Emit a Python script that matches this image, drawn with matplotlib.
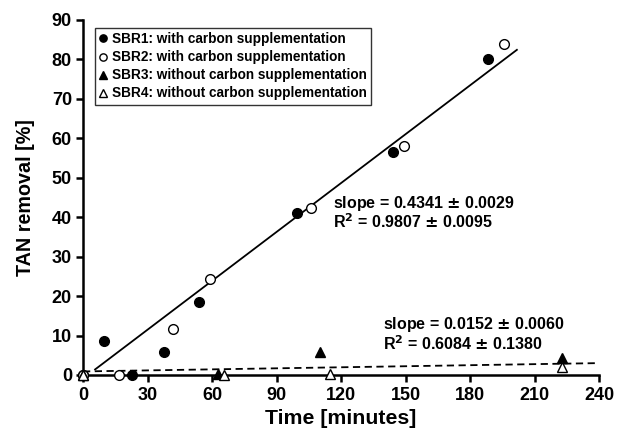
import matplotlib
matplotlib.use("Agg")
import matplotlib.pyplot as plt
import numpy as np

plt.rcParams['font.family'] = ['Liberation Sans', 'DejaVu Sans']
plt.rcParams['font.weight'] = 'bold'
plt.rcParams['mathtext.default'] = 'bf'

# Data (time in minutes, TAN removal in %)
sbr1_t = [0, 9.8, 22.9, 37.7, 54.0, 99.6, 144.3, 188.4]
sbr1_y = [0, 8.7, 0.0, 5.75, 18.6, 41.0, 56.6, 80.1]
sbr2_t = [0, 16.8, 41.8, 58.9, 106.2, 149.3, 195.6]
sbr2_y = [0, 0.0, 11.6, 24.3, 42.3, 58.1, 83.8]
sbr3_t = [0, 63.0, 110.4, 222.7]
sbr3_y = [0, 0.2, 5.75, 4.2]
sbr4_t = [0, 65.7, 115.0, 222.7]
sbr4_y = [0, 0.1, 0.3, 2.0]

labels = ["SBR1: with carbon supplementation",
          "SBR2: with carbon supplementation",
          "SBR3: without carbon supplementation",
          "SBR4: without carbon supplementation"]

# Drawn fit lines (as they appear on the chart)
fit_with_slope, fit_with_intercept = 0.413, -0.91
fit_with_range = [5.6, 201.8]
fit_without_slope, fit_without_intercept = 0.0088, 0.9
fit_without_range = [0, 239.3]

ann_with = ["slope = 0.4341 $\\pm$ 0.0029", "R$^{2}$ = 0.9807 $\\pm$ 0.0095"]
ann_without = ["slope = 0.0152 $\\pm$ 0.0060", "R$^{2}$ = 0.6084 $\\pm$ 0.1380"]

xticks = list(range(0, 241, 30))
yticks = list(range(0, 91, 10))

fig = plt.figure(figsize=(6.21, 4.29), dpi=100)
ax = fig.add_axes([0.1337, 0.1259, 0.8309, 0.8275])

xw = np.array(fit_with_range)
ax.plot(xw, fit_with_intercept + fit_with_slope * xw, color='black', lw=1.3)
xo = np.array(fit_without_range)
ax.plot(xo, fit_without_intercept + fit_without_slope * xo, color='black', lw=1.3,
        linestyle=(0, (4, 2.5)), clip_on=False)

ms = 7
h1, = ax.plot(sbr1_t, sbr1_y, 'o', color='black', ms=ms, clip_on=False, zorder=5)
h2, = ax.plot(sbr2_t, sbr2_y, 'o', mfc='white', mec='black', mew=1.0, ms=ms, clip_on=False, zorder=5)
h3, = ax.plot(sbr3_t, sbr3_y, '^', color='black', ms=ms, clip_on=False, zorder=5)
h4, = ax.plot(sbr4_t, sbr4_y, '^', mfc='white', mec='black', mew=1.0, ms=ms, clip_on=False, zorder=6)

ax.set_xlim(0, 240)
ax.set_ylim(0, 90)
ax.set_xticks(xticks)
ax.set_yticks(yticks)
for s in ['top', 'right']:
    ax.spines[s].set_visible(False)
for s in ['left', 'bottom']:
    ax.spines[s].set_linewidth(1.8)
ax.tick_params(axis='both', direction='out', length=5, width=1.8, labelsize=13)
ax.tick_params(axis='x', pad=4)
ax.tick_params(axis='y', pad=3)
for lab in ax.get_xticklabels() + ax.get_yticklabels():
    lab.set_fontweight('bold')

ax.set_xlabel("Time [minutes]", fontsize=15.3, fontweight='bold', labelpad=3)
ax.set_ylabel("TAN removal [%]", fontsize=14.2, fontweight='bold', labelpad=12)

leg = ax.legend([h1, h2, h3, h4], labels, loc='upper left', bbox_to_anchor=(0.023, 0.977),
                prop={'weight': 'bold', 'size': 9.8}, markerscale=0.75,
                handlelength=0.6, handletextpad=0.35, borderpad=0.3, labelspacing=0.3,
                frameon=True, fancybox=False, borderaxespad=0)
leg.get_frame().set_edgecolor('black')
leg.get_frame().set_linewidth(1.0)

fs_ann = 11.5
ax.text(116.5, 43.6, ann_with[0], fontsize=fs_ann, fontweight='bold', ha='left', va='center')
ax.text(116.5, 38.8, ann_with[1], fontsize=fs_ann, fontweight='bold', ha='left', va='center')
ax.text(139.6, 12.9, ann_without[0], fontsize=fs_ann, fontweight='bold', ha='left', va='center')
ax.text(139.6, 7.9, ann_without[1], fontsize=fs_ann, fontweight='bold', ha='left', va='center')

fig.savefig("out.png", dpi=100)
